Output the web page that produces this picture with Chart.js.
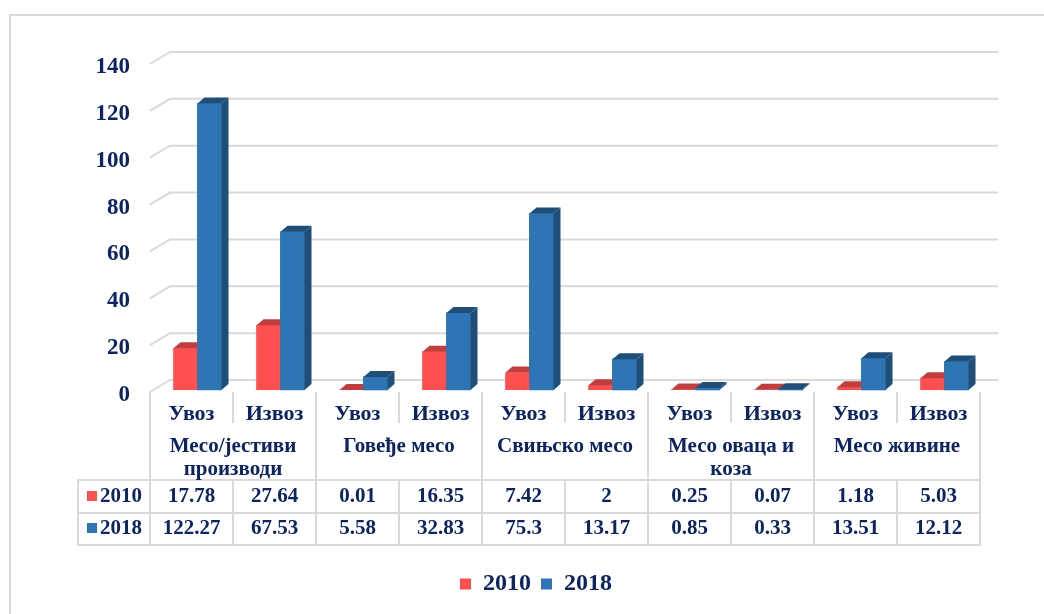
<!DOCTYPE html>
<html>
<head>
<meta charset="utf-8">
<script src="https://cdn.jsdelivr.net/npm/chart.js@4.4.0/dist/chart.umd.min.js"></script>
<style>
  html, body { margin: 0; padding: 0; background: #fff; }
  #wrap { width: 1044px; height: 614px; }
</style>
</head>
<body>
<div id="wrap"><canvas id="meat"></canvas></div>
<script>
var labels = ['Увоз', 'Извоз', 'Увоз', 'Извоз', 'Увоз', 'Извоз', 'Увоз', 'Извоз', 'Увоз', 'Извоз'];
var groups = [['Месо/јестиви', 'производи'], ['Говеђе месо'], ['Свињско месо'], ['Месо оваца и', 'коза'], ['Месо живине']];
var years = ['2010', '2018'];
var values2010 = [17.78, 27.64, 0.01, 16.35, 7.42, 2, 0.25, 0.07, 1.18, 5.03];
var values2018 = [122.27, 67.53, 5.58, 32.83, 75.3, 13.17, 0.85, 0.33, 13.51, 12.12];

var navy = '#0d2461';
var grey = '#d9d9d9';
var serif = '"Liberation Serif", "Times New Roman", serif';
var fronts = ['#ff5050', '#2e75b6'];
var darks = ['#c03e3e', '#1f4e79'];

function drawFaces(ctx, meta, dark) {
  var dx = 7, dy = 6;
  ctx.fillStyle = dark;
  meta.data.forEach(function (bar) {
    var p = bar.getProps(['x', 'y', 'base', 'width'], true);
    var x0 = p.x - p.width / 2, x1 = p.x + p.width / 2;
    ctx.beginPath();
    ctx.moveTo(x0, p.y);
    ctx.lineTo(x0 + dx, p.y - dy);
    ctx.lineTo(x1 + dx, p.y - dy);
    ctx.lineTo(x1, p.y);
    ctx.closePath();
    ctx.fill();
    ctx.beginPath();
    ctx.moveTo(x1, p.y);
    ctx.lineTo(x1 + dx, p.y - dy);
    ctx.lineTo(x1 + dx, p.base - dy);
    ctx.lineTo(x1, p.base);
    ctx.closePath();
    ctx.fill();
  });
}

// back wall gridlines, then fake 3d faces on the bars
var wall = {
  id: 'wall',
  beforeDatasetsDraw: function (chart) {
    var ctx = chart.ctx, y = chart.scales.y, a = chart.chartArea;
    ctx.save();
    ctx.strokeStyle = grey;
    ctx.lineWidth = 2;
    y.ticks.forEach(function (t) {
      var py = y.getPixelForValue(t.value);
      ctx.beginPath();
      ctx.moveTo(a.left, py + 2);
      ctx.lineTo(a.left + 20, py - 10);
      ctx.lineTo(a.right + 18, py - 10);
      ctx.stroke();
    });
    ctx.restore();
    ctx.save();
    ctx.translate(6, 0);
  },
  afterDatasetsDraw: function (chart) {
    var ctx = chart.ctx;
    var red = chart.getDatasetMeta(0), blue = chart.getDatasetMeta(1);
    drawFaces(ctx, red, darks[0]);
    blue.data.forEach(function (bar) { bar.draw(ctx); });
    drawFaces(ctx, blue, darks[1]);
    ctx.restore();
  }
};

// data table under the axis
var table = {
  id: 'table',
  afterDraw: function (chart) {
    var ctx = chart.ctx, x = chart.scales.x, a = chart.chartArea;
    var half = (x.getPixelForValue(1) - x.getPixelForValue(0)) / 2;
    var top = 392, subBottom = 423, rowTop = 480, rowMid = 513, rowBottom = 545, legLeft = 78;
    var rows = [values2010, values2018];
    ctx.save();
    ctx.strokeStyle = grey;
    ctx.lineWidth = 2;

    // outer frame
    ctx.strokeRect(10, 15, 1100, 700);

    ctx.beginPath();
    for (var i = 0; i <= labels.length; i++) {
      var lx = x.getPixelForValue(0) - half + i * 2 * half;
      if (i % 2 === 0) {
        ctx.moveTo(lx, top); ctx.lineTo(lx, rowBottom);
      } else {
        ctx.moveTo(lx, top); ctx.lineTo(lx, subBottom);
        ctx.moveTo(lx, rowTop); ctx.lineTo(lx, rowBottom);
      }
    }
    ctx.moveTo(legLeft, rowTop); ctx.lineTo(legLeft, rowBottom);
    [rowTop, rowMid, rowBottom].forEach(function (ly) {
      ctx.moveTo(legLeft - 1, ly); ctx.lineTo(a.right + 1, ly);
    });
    ctx.stroke();

    ctx.fillStyle = navy;
    ctx.textAlign = 'center';
    ctx.textBaseline = 'middle';
    ctx.font = 'bold 21px ' + serif;
    groups.forEach(function (g, gi) {
      var cx = (x.getPixelForValue(gi * 2) + x.getPixelForValue(gi * 2 + 1)) / 2;
      g.forEach(function (line, li) {
        ctx.fillText(line, cx, 447 + li * 23);
      });
    });
    rows.forEach(function (vals, ri) {
      var cy = ri === 0 ? 497 : 529;
      vals.forEach(function (v, ci) {
        ctx.fillText(String(v), x.getPixelForValue(ci), cy);
      });
      ctx.fillStyle = fronts[ri];
      ctx.fillRect(87, cy - 6, 10, 10);
      ctx.fillStyle = navy;
      ctx.textAlign = 'left';
      ctx.fillText(years[ri], 100, cy);
      ctx.textAlign = 'center';
    });
    ctx.restore();
  }
};

new Chart(document.getElementById('meat'), {
  type: 'bar',
  data: {
    labels: labels,
    datasets: [{
      label: years[0],
      data: values2010,
      backgroundColor: fronts[0],
      borderWidth: 0
    }, {
      label: years[1],
      data: values2018,
      backgroundColor: fronts[1],
      borderWidth: 0
    }]
  },
  options: {
    responsive: true,
    maintainAspectRatio: false,
    animation: false,
    barThickness: 24,
    layout: { padding: { top: 62, right: 64, bottom: 8, left: 92 } },
    scales: {
      x: {
        grid: { display: false, drawTicks: false },
        border: { display: false },
        ticks: { color: navy, font: { family: serif, size: 22, weight: 'bold' }, padding: 11, maxRotation: 0 },
        afterFit: function (s) { s.height = 172; }
      },
      y: {
        min: 0,
        max: 140,
        grid: { display: false, drawTicks: false },
        border: { display: false },
        ticks: { stepSize: 20, color: navy, font: { family: serif, size: 23, weight: 'bold' }, padding: 20, labelOffset: 5 },
        afterFit: function (s) { s.width = 58; }
      }
    },
    plugins: {
      tooltip: { enabled: false },
      legend: {
        position: 'bottom',
        labels: {
          color: navy,
          font: { family: serif, size: 24, weight: 'bold' },
          boxWidth: 11,
          boxHeight: 11,
          padding: 10
        }
      }
    }
  },
  plugins: [wall, table]
});
</script>
</body>
</html>
